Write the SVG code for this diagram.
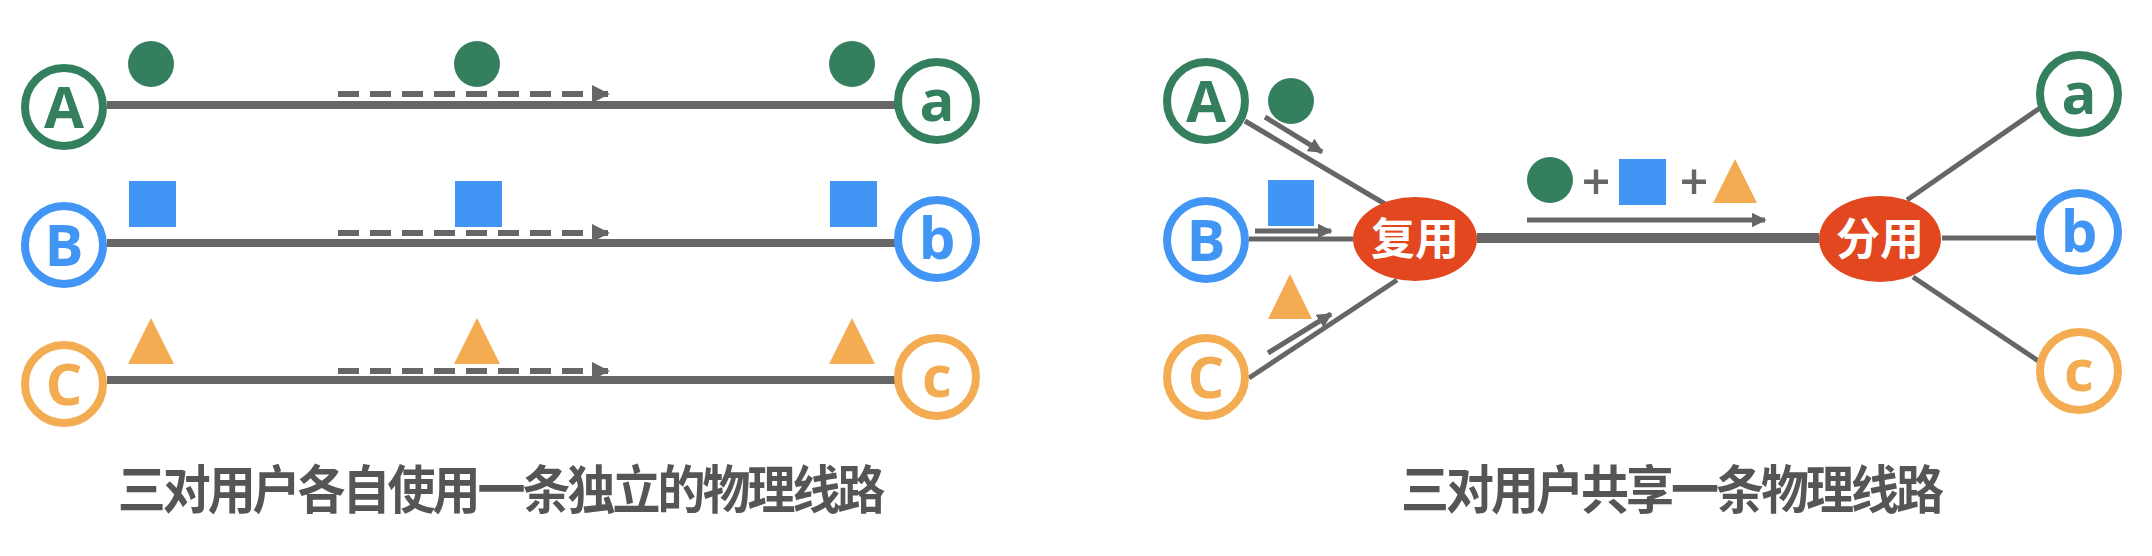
<svg xmlns="http://www.w3.org/2000/svg" width="2152" height="556" viewBox="0 0 2152 556">
<style>
.ring{fill:#fff;stroke-width:8}
.g{stroke:#347f5d}.b{stroke:#4195f4}.o{stroke:#f4ac52}
.lt{font-family:"Open Sans","DejaVu Sans",sans-serif;font-weight:bold;font-size:58px;text-anchor:middle}
.line{stroke:#666;stroke-width:8;fill:none}
.thin{stroke:#666;stroke-width:5;fill:none}
.dash{stroke:#666;stroke-width:6;fill:none;stroke-dasharray:21 11}
.title{font-family:"Noto Sans CJK SC","Noto Sans",sans-serif;font-weight:bold;font-size:48px;letter-spacing:-3px;fill:#555;text-anchor:middle}
.mux{fill:#e2471f}
.mt{font-family:"Noto Sans CJK SC",sans-serif;font-weight:bold;font-size:44px;fill:#fff;text-anchor:middle}
.plus{font-family:"Open Sans","DejaVu Sans",sans-serif;font-weight:600;font-size:50px;fill:#666;text-anchor:middle}
</style>
<defs>
<marker id="ah" viewBox="0 0 10 10" refX="9" refY="5" markerWidth="3" markerHeight="3" orient="auto" markerUnits="strokeWidth">
<path d="M0,0L10,5L0,10z" fill="#666"/>
</marker>
</defs>
<rect width="2152" height="556" fill="#fff"/>

<g id="connectors">
<line class="line" x1="107" y1="105" x2="895" y2="105"/>
<line class="line" x1="107" y1="243" x2="895" y2="243"/>
<line class="line" x1="107" y1="380" x2="895" y2="380"/>
<path class="dash" d="M338,94H608" marker-end="url(#ah)"/>
<path class="dash" d="M338,233H608" marker-end="url(#ah)"/>
<path class="dash" d="M338,371H608" marker-end="url(#ah)"/>
<line class="thin" x1="1245" y1="121" x2="1385" y2="204"/>
<line class="thin" x1="1249" y1="239" x2="1353" y2="239"/>
<line class="thin" x1="1249" y1="378" x2="1397" y2="280"/>
<line class="thin" x1="1265" y1="117" x2="1322" y2="152" marker-end="url(#ah)"/>
<line class="thin" x1="1255" y1="231" x2="1331" y2="231" marker-end="url(#ah)"/>
<line class="thin" x1="1268" y1="353" x2="1331" y2="314" marker-end="url(#ah)"/>
<line x1="1477" y1="238" x2="1819" y2="238" stroke="#666" stroke-width="10"/>
<line class="thin" x1="1527" y1="220" x2="1765" y2="220" marker-end="url(#ah)"/>
<line class="thin" x1="1907" y1="200" x2="2040" y2="108"/>
<line class="thin" x1="1942" y1="238" x2="2036" y2="238"/>
<line class="thin" x1="1913" y1="277" x2="2040" y2="362"/>
</g>

<g id="left-A"><circle class="ring g" cx="64" cy="107" r="39"/><text class="lt" x="64" y="128" fill="#347f5d">A</text></g>
<g id="left-B"><circle class="ring b" cx="64" cy="245" r="39"/><text class="lt" x="64" y="266" fill="#4195f4">B</text></g>
<g id="left-C"><circle class="ring o" cx="64" cy="384" r="39"/><text class="lt" x="64" y="405" fill="#f4ac52">C</text></g>
<g id="left-a"><circle class="ring g" cx="937" cy="101" r="39"/><text class="lt" x="937" y="121" fill="#347f5d">a</text></g>
<g id="left-b"><circle class="ring b" cx="937" cy="239" r="39"/><text class="lt" x="937" y="259" fill="#4195f4">b</text></g>
<g id="left-c"><circle class="ring o" cx="937" cy="377" r="39"/><text class="lt" x="937" y="397" fill="#f4ac52">c</text></g>

<g id="left-signals">
<circle cx="151" cy="64" r="23" fill="#347f5d"/>
<circle cx="477" cy="64" r="23" fill="#347f5d"/>
<circle cx="852" cy="64" r="23" fill="#347f5d"/>
<rect x="129" y="181" width="47" height="46" fill="#4195f4"/>
<rect x="455" y="181" width="47" height="46" fill="#4195f4"/>
<rect x="830" y="181" width="47" height="46" fill="#4195f4"/>
<path d="M151,318L174,364H128z" fill="#f4ac52"/>
<path d="M477,318L500,364H454z" fill="#f4ac52"/>
<path d="M852,318L875,364H829z" fill="#f4ac52"/>
</g>

<g id="right-A"><circle class="ring g" cx="1206" cy="101" r="39"/><text class="lt" x="1206" y="122" fill="#347f5d">A</text></g>
<g id="right-B"><circle class="ring b" cx="1206" cy="240" r="39"/><text class="lt" x="1206" y="261" fill="#4195f4">B</text></g>
<g id="right-C"><circle class="ring o" cx="1206" cy="377" r="39"/><text class="lt" x="1206" y="398" fill="#f4ac52">C</text></g>
<g id="right-a"><circle class="ring g" cx="2079" cy="94" r="39"/><text class="lt" x="2079" y="114" fill="#347f5d">a</text></g>
<g id="right-b"><circle class="ring b" cx="2079" cy="232" r="39"/><text class="lt" x="2079" y="252" fill="#4195f4">b</text></g>
<g id="right-c"><circle class="ring o" cx="2079" cy="371" r="39"/><text class="lt" x="2079" y="391" fill="#f4ac52">c</text></g>

<g id="right-signals">
<circle cx="1291" cy="101" r="23" fill="#347f5d"/>
<rect x="1268" y="180" width="46" height="46" fill="#4195f4"/>
<path d="M1290,274L1312,319H1268z" fill="#f4ac52"/>
<circle cx="1550" cy="180" r="23" fill="#347f5d"/>
<text class="plus" x="1596" y="200">+</text>
<rect x="1619" y="159" width="47" height="46" fill="#4195f4"/>
<text class="plus" x="1694" y="200">+</text>
<path d="M1735,159L1757,203H1713z" fill="#f4ac52"/>
</g>

<g id="mux"><ellipse class="mux" cx="1415" cy="239" rx="62" ry="42"/><text class="mt" x="1415" y="255">复用</text></g>
<g id="demux"><ellipse class="mux" cx="1880" cy="239" rx="61" ry="43"/><text class="mt" x="1880" y="255">分用</text></g>

<text class="title" transform="translate(500,509) scale(1,1.08)">三对用户各自使用一条独立的物理线路</text>
<text class="title" transform="translate(1671,509) scale(1,1.08)">三对用户共享一条物理线路</text>
</svg>
